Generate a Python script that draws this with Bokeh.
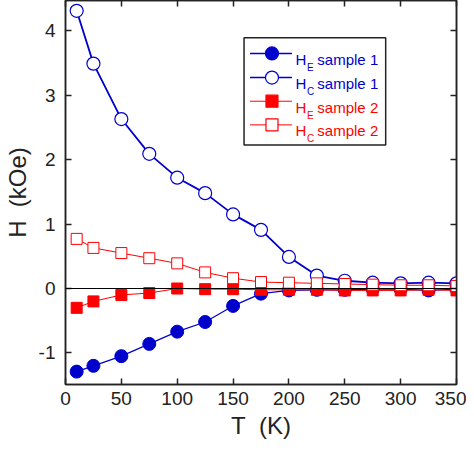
from bokeh.plotting import figure
from bokeh.models import Range1d, LinearAxis, Span, BoxAnnotation, Label, FixedTicker
from bokeh.embed import file_html
from bokeh.resources import INLINE

# ---- data ----
T = [10, 25, 50, 75, 100, 125, 150, 175, 200, 225, 250, 275, 300, 325, 350]
HE1 = [-1.29, -1.20, -1.05, -0.86, -0.67, -0.52, -0.27, -0.08, -0.03, -0.02, -0.02, -0.01, -0.01, -0.03, -0.01]
HC1 = [4.31, 3.49, 2.63, 2.09, 1.72, 1.48, 1.15, 0.91, 0.49, 0.20, 0.12, 0.09, 0.08, 0.09, 0.08]
HE2 = [-0.30, -0.20, -0.10, -0.07, 0.00, -0.01, -0.01, -0.02, -0.02, -0.02, -0.03, -0.03, -0.03, -0.02, -0.03]
HC2 = [0.77, 0.63, 0.55, 0.47, 0.39, 0.25, 0.16, 0.10, 0.09, 0.08, 0.07, 0.06, 0.05, 0.05, 0.04]
x_ticks = [0, 50, 100, 150, 200, 250, 300, 350]
y_ticks = [-1, 0, 1, 2, 3, 4]
y_tick_labels = {-1: "-1", 0: "0", 1: "1", 2: "2", 3: "3", 4: "4"}
x_title = "T\u00a0\u00a0(K)"
y_title = "H\u00a0\u00a0(kOe)"
series_names = ["sample 1", "sample 1", "sample 2", "sample 2"]
series_subs = ["E", "C", "E", "C"]

BLUE = "#0000CD"
RED = "#FF0000"
INK = "#222222"
FONT = "Liberation Sans"

XMIN, XMAX = 0, 350
YMIN, YMAX = -1.49, 4.47

p = figure(width=466, height=441, x_range=Range1d(XMIN, XMAX), y_range=Range1d(YMIN, YMAX),
           output_backend="svg", toolbar_location=None,
           min_border_left=56, min_border_right=10, min_border_top=0, min_border_bottom=0)
p.grid.visible = False
p.outline_line_color = INK
p.outline_line_width = 1.5
p.background_fill_color = "white"
p.border_fill_color = "white"

p.xaxis.ticker = FixedTicker(ticks=x_ticks)
p.yaxis.ticker = FixedTicker(ticks=y_ticks)
p.yaxis.major_label_overrides = y_tick_labels
for ax in [p.xaxis[0], p.yaxis[0]]:
    ax.major_tick_in = 6
    ax.major_tick_out = 0
    ax.minor_tick_in = 0
    ax.minor_tick_out = 0
    ax.axis_line_color = INK
    ax.axis_line_width = 1.5
    ax.major_tick_line_color = INK
    ax.major_tick_line_width = 1.5
    ax.major_label_text_font = FONT
    ax.major_label_text_font_size = "19px"
    ax.major_label_text_color = INK
    ax.axis_label_text_font = FONT
    ax.axis_label_text_font_size = "24px"
    ax.axis_label_text_font_style = "normal"
    ax.axis_label_text_color = INK
p.xaxis.axis_label = x_title
p.yaxis.axis_label = y_title
p.xaxis.major_label_standoff = 7
p.xaxis.axis_label_standoff = 4
p.yaxis.major_label_standoff = 10
p.yaxis.axis_label_standoff = 5

top = LinearAxis(ticker=FixedTicker(ticks=x_ticks), major_label_overrides={t: "" for t in x_ticks})
right = LinearAxis(ticker=FixedTicker(ticks=y_ticks), major_label_overrides={t: "" for t in y_ticks})
for ax in [top, right]:
    ax.major_tick_in = 6
    ax.major_tick_out = 0
    ax.minor_tick_in = 0
    ax.minor_tick_out = 0
    ax.axis_line_color = INK
    ax.axis_line_width = 1.5
    ax.major_tick_line_color = INK
    ax.major_tick_line_width = 1.5
    ax.major_label_text_font_size = "1px"
    ax.major_label_standoff = 0
p.add_layout(top, "above")
p.add_layout(right, "right")

# zero line
p.add_layout(Span(location=0, dimension="width", line_color="black", line_width=1.2))

# series
p.line(T, HE1, line_color=BLUE, line_width=1.2)
p.scatter(T, HE1, marker="circle", size=13, fill_color=BLUE, line_color=BLUE)
p.line(T, HC1, line_color=BLUE, line_width=1.8)
p.scatter(T, HC1, marker="circle", size=13, fill_color="white", line_color=BLUE, line_width=1.2)
p.line(T, HE2, line_color=RED, line_width=1)
p.scatter(T, HE2, marker="square", size=11, fill_color=RED, line_color=RED)
p.line(T, HC2, line_color=RED, line_width=1)
p.scatter(T, HC2, marker="square", size=11, fill_color="white", line_color=RED, line_width=1)

# ---- custom legend: reference-image pixel positions converted to data units ----
def dx(px):
    return (px - 64) / 1.12

def dy(py):
    return 4.0 - (py - 32) / 65.4

p.add_layout(BoxAnnotation(left=dx(243), right=dx(385), top=dy(39), bottom=dy(148),
                           fill_color="white", fill_alpha=1, line_color=INK, line_alpha=1,
                           line_width=1.5, level="annotation"))

row_mid = [55, 79.5, 103.5, 127.5]
colors = [BLUE, BLUE, RED, RED]
markers = ["circle", "circle", "square", "square"]
fills = [BLUE, "white", RED, "white"]
sizes = [13, 13, 12, 12]
for i in range(4):
    ym = dy(row_mid[i])
    ln = p.line([dx(249), dx(291)], [ym, ym], line_color=colors[i], line_width=1.5 if i < 2 else 1)
    ln.level = "overlay"
    sc = p.scatter([dx(271)], [ym], marker=markers[i], size=sizes[i], fill_color=fills[i],
                   line_color=colors[i], line_width=1.2)
    sc.level = "overlay"
    p.add_layout(Label(x=dx(294.5), y=dy(row_mid[i] + 6), text="H", text_font=FONT,
                       text_font_size="15px", text_color=colors[i], text_baseline="alphabetic",
                       text_align="left", level="overlay"))
    p.add_layout(Label(x=dx(306), y=dy(row_mid[i] + 14), text=series_subs[i], text_font=FONT,
                       text_font_size="10px", text_color=colors[i], text_baseline="alphabetic",
                       text_align="left", level="overlay"))
    p.add_layout(Label(x=dx(316.5), y=dy(row_mid[i] + 6), text=series_names[i], text_font=FONT,
                       text_font_size="15px", text_color=colors[i], text_baseline="alphabetic",
                       text_align="left", level="overlay"))

open("out.html", "w").write(file_html(p, INLINE))
